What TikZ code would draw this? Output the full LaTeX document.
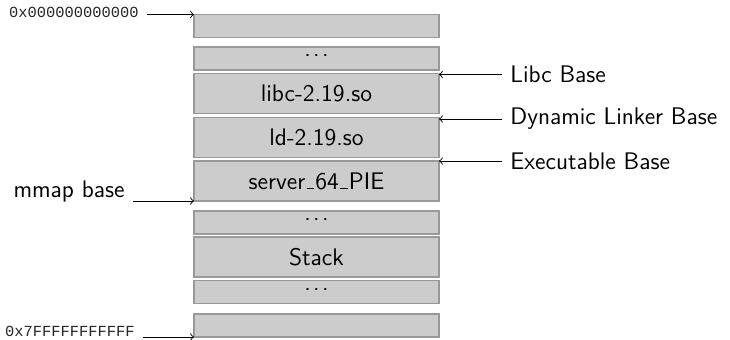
\documentclass[tikz,border=0pt]{standalone}
\usepackage{fontspec}
\newfontfamily\hexfont{Liberation Mono}
\newcommand\usc{\leavevmode\kern.06em\vbox{\hrule width.3em}\kern.06em}
\newcommand\mydots{.\kern1.2pt.\kern1.2pt.}
\begin{document}
\begin{tikzpicture}[x=0.5pt,y=-0.5pt,
  mem/.style={draw=black!40, fill=black!20, line width=0.9pt, outer sep=0pt, inner sep=0pt,
    minimum width=122.5pt, font=\fontsize{12}{14}\sffamily},
  bigmem/.style={mem, minimum height=20pt},
  smallmem/.style={mem, minimum height=11.5pt},
  dotmem/.style={smallmem, text depth=2.6pt},
  lbl/.style={font=\fontsize{12}{14}\sffamily, inner sep=4pt},
  hexlbl/.style={font=\fontsize{7.7}{9}\hexfont, inner sep=4pt, text=black!85},
  arr/.style={->, line width=0.45pt}]
\useasboundingbox (0,0) rectangle (730,340);
\node[smallmem] (b0) at (316.5,26) {};
\node[dotmem] (d1) at (316.5,58.5) {\mydots};
\node[bigmem] (libc) at (316.5,93.5) {libc-2.19.so};
\node[bigmem] (ld) at (316.5,137.5) {ld-2.19.so};
\node[bigmem] (server) at (316.5,181) {server\usc 64\usc PIE};
\node[dotmem] (d2) at (316.5,222.5) {\mydots};
\node[bigmem] (stack) at (316.5,257) {Stack};
\node[dotmem] (d3) at (316.5,292) {\mydots};
\node[smallmem] (b1) at (316.5,325.5) {};

\node[lbl, anchor=west] (libcb) at (502,74.5) {Libc Base};
\node[lbl, anchor=west] (ldb) at (502,119) {Dynamic Linker Base};
\node[lbl, anchor=west] (exeb) at (502,161) {Executable Base};
\draw[arr] (libcb.west) -- (libcb.west -| libc.east);
\draw[arr] (ldb.west) -- (ldb.west -| ld.east);
\draw[arr] (exeb.west) -- (exeb.west -| server.east);

\node[hexlbl, anchor=base east] (hex0) at (147,18) {0x000000000000};
\node[lbl, anchor=base east] (mmap) at (133,198) {mmap base};
\node[hexlbl, anchor=base east] (hex1) at (143,337) {0x7FFFFFFFFFFF};
\draw[arr] (hex0.east |- b0.north west) -- (b0.north west);
\draw[arr] (mmap.east |- server.south west) -- (server.south west);
\draw[arr] (hex1.east |- b1.south west) -- (b1.south west);
\end{tikzpicture}
\end{document}
